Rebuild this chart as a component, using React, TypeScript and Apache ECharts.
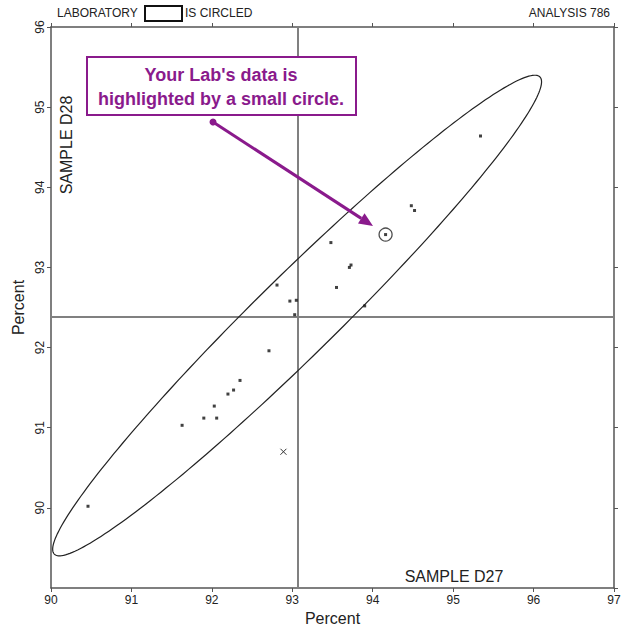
import React, { useEffect, useRef } from "react";
import * as echarts from "echarts";

// ---- data ----
const labPoints: number[][] = [
  [90.46, 90.02],
  [91.63, 91.03],
  [91.9, 91.12],
  [92.06, 91.12],
  [92.03, 91.27],
  [92.2, 91.42],
  [92.27, 91.47],
  [92.35, 91.59],
  [92.71, 91.96],
  [92.81, 92.78],
  [92.97, 92.58],
  [93.05, 92.59],
  [93.03, 92.41],
  [93.48, 93.31],
  [93.73, 93.03],
  [93.71, 93.0],
  [93.55, 92.75],
  [93.9, 92.52],
  [94.48, 93.77],
  [94.52, 93.71],
  [95.34, 94.64],
  [94.16, 93.41],
];
const yourLab: number[][] = [[94.16, 93.41]];
const excluded: number[][] = [[92.89, 90.7]];
const medianX = [93.07];
const medianY = [92.385];
// ellipse: center x, center y, semi-major, semi-minor, angle (deg)
const ellipseCenter = [93.06, 92.4];
const ellipseAxes = [4.24, 0.5];
const ellipseAngle = [44.6];
const xTicks = [90, 97, 1];
const yTicks = [89, 96, 1];

const FONT = "Liberation Sans, Arial, sans-serif";
const PURPLE = "#8a1a8c";

export default function App() {
  const ref = useRef<HTMLDivElement>(null);
  useEffect(() => {
    if (!ref.current) return;
    const chart = echarts.init(ref.current, undefined, { renderer: "svg" });
    const axisLine = { show: true, lineStyle: { color: "#555", width: 1.5 } };
    const axisTick = { show: true, inside: false, length: 4, lineStyle: { color: "#555", width: 1 } };
    const baseX = {
      type: "value" as const,
      min: xTicks[0],
      max: xTicks[1],
      interval: xTicks[2],
      splitLine: { show: false },
      axisLine,
      axisTick,
    };
    const baseY = {
      type: "value" as const,
      min: yTicks[0],
      max: yTicks[1],
      interval: yTicks[2],
      splitLine: { show: false },
      axisLine,
      axisTick,
    };
    const ax = 160 / 190.8;
    const ay = 104 / 190.8;
    const tip = [373, 226];
    const base = [tip[0] - 14 * ax, tip[1] - 14 * ay];
    const perp = [-ay * 6, ax * 6];
    chart.setOption({
      animation: false,
      textStyle: { fontFamily: FONT },
      grid: {
        left: 51,
        right: 12,
        top: 27,
        bottom: 39,
        containLabel: false,
        outerBoundsMode: "none",
      },
      xAxis: [
        {
          ...baseX,
          position: "bottom",
          name: "Percent",
          nameLocation: "middle",
          nameGap: 21,
          nameTextStyle: { fontSize: 16, color: "#222", fontFamily: FONT },
          axisLabel: { fontSize: 12, color: "#222", margin: 6, fontFamily: FONT },
        },
        { ...baseX, position: "top", axisLabel: { show: false } },
      ],
      yAxis: [
        {
          ...baseY,
          position: "left",
          name: "Percent",
          nameLocation: "middle",
          nameRotate: 90,
          nameGap: 21,
          nameTextStyle: { fontSize: 16, color: "#222", fontFamily: FONT },
          axisLabel: {
            fontSize: 12,
            color: "#222",
            rotate: 90,
            margin: 5,
            showMinLabel: false,
            fontFamily: FONT,
          },
        },
        { ...baseY, position: "right", axisLabel: { show: false } },
      ],
      series: [
        {
          type: "custom",
          name: "ellipse",
          silent: true,
          clip: false,
          data: [ellipseCenter],
          renderItem: (params: any, api: any) => {
            const cx = api.value(0);
            const cy = api.value(1);
            const a = ellipseAxes[0];
            const b = ellipseAxes[1];
            const phi = (ellipseAngle[0] * Math.PI) / 180;
            const pts: number[][] = [];
            const n = 240;
            for (let i = 0; i <= n; i++) {
              const t = (2 * Math.PI * i) / n;
              const u = a * Math.cos(t);
              const v = b * Math.sin(t);
              pts.push(
                api.coord([
                  cx + u * Math.cos(phi) - v * Math.sin(phi),
                  cy + u * Math.sin(phi) + v * Math.cos(phi),
                ])
              );
            }
            return {
              type: "polyline",
              shape: { points: pts },
              style: { stroke: "#222", lineWidth: 1.2, fill: "none" },
            };
          },
          z: 2,
        },
        {
          type: "scatter",
          name: "labs",
          data: labPoints,
          symbol: "rect",
          symbolSize: 3,
          itemStyle: { color: "#111" },
          silent: true,
          z: 4,
          markLine: {
            silent: true,
            symbol: "none",
            label: { show: false },
            lineStyle: { color: "#808080", width: 2, type: "solid" },
            data: [{ xAxis: medianX[0] }, { yAxis: medianY[0] }],
            z: 1,
          },
        },
        {
          type: "scatter",
          name: "your lab",
          data: yourLab,
          symbol: "circle",
          symbolSize: 13,
          itemStyle: { color: "rgba(0,0,0,0)", borderColor: "#222", borderWidth: 1.3 },
          silent: true,
          z: 5,
        },
        {
          type: "custom",
          name: "excluded",
          silent: true,
          data: excluded,
          renderItem: (params: any, api: any) => {
            const p = api.coord([api.value(0), api.value(1)]);
            const s = 3;
            return {
              type: "group",
              children: [
                {
                  type: "line",
                  shape: { x1: p[0] - s, y1: p[1] - s, x2: p[0] + s, y2: p[1] + s },
                  style: { stroke: "#333", lineWidth: 1 },
                },
                {
                  type: "line",
                  shape: { x1: p[0] - s, y1: p[1] + s, x2: p[0] + s, y2: p[1] - s },
                  style: { stroke: "#333", lineWidth: 1 },
                },
              ],
            };
          },
          z: 4,
        },
      ],
      graphic: [
        {
          type: "text",
          left: 57,
          top: 7,
          style: { text: "LABORATORY", fontSize: 12, fill: "#222", fontFamily: FONT },
        },
        {
          type: "rect",
          shape: { x: 145, y: 6, width: 37, height: 15 },
          style: { fill: "none", stroke: "#111", lineWidth: 2 },
        },
        {
          type: "text",
          left: 185,
          top: 7,
          style: { text: "IS CIRCLED", fontSize: 12, fill: "#222", fontFamily: FONT },
        },
        {
          type: "text",
          right: 16,
          top: 7,
          style: { text: "ANALYSIS 786", fontSize: 12, fill: "#222", fontFamily: FONT },
        },
        {
          type: "text",
          x: 66,
          y: 145,
          rotation: Math.PI / 2,
          style: {
            text: "SAMPLE D28",
            fontSize: 16,
            fill: "#222",
            fontFamily: FONT,
            align: "center",
            verticalAlign: "middle",
          },
        },
        {
          type: "text",
          x: 454,
          y: 576,
          style: {
            text: "SAMPLE D27",
            fontSize: 16,
            fill: "#222",
            fontFamily: FONT,
            align: "center",
            verticalAlign: "middle",
          },
        },
        {
          type: "rect",
          shape: { x: 87, y: 57, width: 269, height: 58 },
          style: { fill: "#fff", stroke: PURPLE, lineWidth: 2 },
          z: 10,
        },
        {
          type: "text",
          x: 221,
          y: 87,
          z: 11,
          style: {
            text: "Your Lab's data is\nhighlighted by a small circle.",
            fontSize: 18,
            fontWeight: "bold",
            lineHeight: 24,
            fill: PURPLE,
            fontFamily: FONT,
            align: "center",
            verticalAlign: "middle",
          },
        },
        {
          type: "line",
          shape: { x1: 213, y1: 122, x2: base[0], y2: base[1] },
          style: { stroke: PURPLE, lineWidth: 3 },
          z: 10,
        },
        {
          type: "circle",
          shape: { cx: 213, cy: 122, r: 3.5 },
          style: { fill: PURPLE },
          z: 10,
        },
        {
          type: "polygon",
          shape: {
            points: [
              [tip[0], tip[1]],
              [base[0] + perp[0], base[1] + perp[1]],
              [base[0] - perp[0], base[1] - perp[1]],
            ],
          },
          style: { fill: PURPLE },
          z: 10,
        },
      ],
    });
    return () => chart.dispose();
  }, []);
  return (
    <div
      ref={ref}
      style={{ position: "fixed", left: 0, top: 0, width: 626, height: 627, background: "#fff" }}
    />
  );
}
